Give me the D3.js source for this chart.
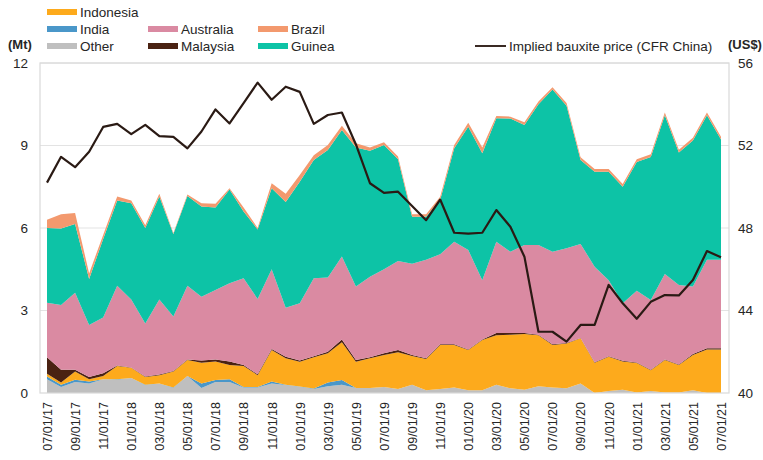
<!DOCTYPE html>
<html><head><meta charset="utf-8">
<script src="https://cdn.jsdelivr.net/npm/d3@7"></script>
<style>body{margin:0;background:#fff}svg{display:block}text{font-family:"Liberation Sans",Arial,sans-serif;fill:#262626}</style>
</head><body><svg id="c" width="763" height="460"></svg>
<script>
const months = ["07/01/17","08/01/17","09/01/17","10/01/17","11/01/17","12/01/17","01/01/18","02/01/18","03/01/18","04/01/18","05/01/18","06/01/18","07/01/18","08/01/18","09/01/18","10/01/18","11/01/18","12/01/18","01/01/19","02/01/19","03/01/19","04/01/19","05/01/19","06/01/19","07/01/19","08/01/19","09/01/19","10/01/19","11/01/19","12/01/19","01/01/20","02/01/20","03/01/20","04/01/20","05/01/20","06/01/20","07/01/20","08/01/20","09/01/20","10/01/20","11/01/20","12/01/20","01/01/21","02/01/21","03/01/21","04/01/21","05/01/21","06/01/21","07/01/21"];
const other     = [0.50,0.22,0.40,0.35,0.50,0.48,0.55,0.28,0.35,0.18,0.62,0.18,0.40,0.40,0.20,0.20,0.35,0.29,0.23,0.15,0.25,0.30,0.18,0.18,0.22,0.15,0.30,0.10,0.15,0.20,0.10,0.10,0.30,0.17,0.12,0.25,0.20,0.17,0.35,0.00,0.07,0.12,0.02,0.07,0.02,0.02,0.10,0.00,0.00];
const india     = [0.10,0.08,0.08,0.07,0.00,0.02,0.00,0.02,0.00,0.02,0.00,0.17,0.07,0.10,0.02,0.02,0.07,0.01,0.01,0.01,0.13,0.17,0.00,0.00,0.00,0.00,0.00,0.00,0.00,0.00,0.00,0.00,0.00,0.00,0.00,0.00,0.00,0.00,0.00,0.00,0.00,0.00,0.00,0.00,0.00,0.00,0.00,0.00,0.00];
const indonesia = [0.10,0.08,0.30,0.08,0.12,0.48,0.37,0.28,0.30,0.58,0.58,0.75,0.68,0.52,0.76,0.43,1.14,0.96,0.90,1.14,1.07,1.38,0.96,1.08,1.16,1.33,1.05,1.14,1.60,1.55,1.46,1.83,1.80,1.95,2.03,1.85,1.55,1.63,1.64,1.10,1.25,1.03,1.07,0.76,1.18,1.00,1.28,1.58,1.58];
const malaysia  = [0.60,0.47,0.07,0.08,0.10,0.02,0.01,0.02,0.02,0.02,0.02,0.08,0.07,0.13,0.04,0.03,0.04,0.06,0.04,0.04,0.05,0.10,0.06,0.04,0.07,0.08,0.03,0.02,0.02,0.02,0.02,0.02,0.08,0.06,0.03,0.02,0.02,0.02,0.01,0.02,0.02,0.02,0.02,0.02,0.02,0.02,0.04,0.05,0.05];
const australia = [1.98,2.35,2.80,1.89,2.03,2.90,2.47,1.93,2.73,1.98,2.68,2.32,2.53,2.84,3.15,2.74,2.90,1.78,2.08,2.83,2.70,3.01,2.67,2.93,3.05,3.24,3.32,3.59,3.28,3.73,3.62,2.15,3.32,2.96,3.20,3.26,3.37,3.44,3.42,3.47,2.76,2.09,2.61,2.53,3.11,2.89,2.45,3.22,3.22];
const guinea    = [2.72,2.78,2.50,1.68,2.85,3.10,3.50,3.47,3.75,3.00,3.26,3.28,3.00,3.41,2.43,2.53,2.95,3.85,4.42,4.30,4.64,4.60,5.06,4.58,4.52,3.70,1.71,1.56,1.97,3.40,4.48,4.62,4.49,4.84,4.37,5.12,5.90,5.19,3.05,3.46,3.95,4.24,4.68,5.20,5.77,4.82,5.31,5.25,4.37];
const brazil    = [0.30,0.52,0.40,0.20,0.15,0.15,0.10,0.10,0.10,0.04,0.06,0.12,0.13,0.05,0.15,0.05,0.18,0.30,0.25,0.18,0.18,0.16,0.15,0.12,0.10,0.10,0.09,0.09,0.12,0.12,0.15,0.21,0.08,0.07,0.10,0.10,0.08,0.10,0.10,0.10,0.10,0.10,0.10,0.10,0.10,0.10,0.10,0.10,0.10];
const price     = [50.2,51.45,50.95,51.7,52.9,53.05,52.55,53.0,52.45,52.42,51.86,52.68,53.75,53.07,54.05,55.05,54.22,54.85,54.6,53.05,53.48,53.6,52.05,50.17,49.7,49.76,49.07,48.38,49.38,47.77,47.73,47.77,48.87,48.06,46.61,42.97,42.97,42.49,43.3,43.3,45.24,44.35,43.6,44.42,44.75,44.73,45.48,46.88,46.58];
const leftTicks = [0,3,6,9,12];
const rightTicks = [40,44,48,52,56];
const xLabels = months.filter((d,i)=>i%2===0);

const keys = ["Other","India","Indonesia","Malaysia","Australia","Guinea","Brazil"];
const colors = {Other:"#bfbfbf",India:"#4a97c9",Indonesia:"#fdaa1c",Malaysia:"#4a2212",Australia:"#da8aa2",Guinea:"#0dc3a6",Brazil:"#f3996e"};
const series = {Other:other,India:india,Indonesia:indonesia,Malaysia:malaysia,Australia:australia,Guinea:guinea,Brazil:brazil};
const table = months.map((m,i)=>{const o={month:m,i};keys.forEach(k=>o[k]=series[k][i]);return o;});

const svg = d3.select("#c");
const L=40,R=729,T=63,B=393;
const x = d3.scalePoint().domain(months).range([47,721]);
const y = d3.scaleLinear().domain([0,12]).range([B,T]);
const y2 = d3.scaleLinear().domain([40,56]).range([B,T]);

// gridlines
svg.append("g").selectAll("line").data(leftTicks.filter(d=>d>0)).join("line")
  .attr("x1",L).attr("x2",R).attr("y1",d=>y(d)).attr("y2",d=>y(d))
  .attr("stroke","#e3e3e3").attr("stroke-width",1.2);

const stack = d3.stack().keys(keys)(table);
const area = d3.area().x(d=>x(d.data.month)).y0(d=>y(d[0])).y1(d=>y(d[1]));
svg.append("g").selectAll("path").data(stack).join("path")
  .attr("d",area).attr("fill",d=>colors[d.key]);

// frame
svg.append("rect").attr("x",L).attr("y",T).attr("width",R-L).attr("height",B-T)
  .attr("fill","none").attr("stroke","#d9d9d9").attr("stroke-width",1.2);

// price line
svg.append("path").datum(price)
  .attr("d",d3.line().x((d,i)=>x(months[i])).y(d=>y2(d)))
  .attr("fill","none").attr("stroke","#2a1a14").attr("stroke-width",2.2).attr("stroke-linejoin","round");

// axes
const ax = d3.axisLeft(y).tickValues(leftTicks).tickSize(0).tickPadding(12);
svg.append("g").attr("transform",`translate(${L},0)`).call(ax)
  .call(g=>g.select(".domain").remove())
  .selectAll("text").attr("font-size",13.5).style("font-family","Liberation Sans, Arial, sans-serif").attr("fill","#262626");
const ax2 = d3.axisRight(y2).tickValues(rightTicks).tickSize(0).tickPadding(9);
svg.append("g").attr("transform",`translate(${R},0)`).call(ax2)
  .call(g=>g.select(".domain").remove())
  .selectAll("text").attr("font-size",13.5).style("font-family","Liberation Sans, Arial, sans-serif").attr("fill","#262626");
const axb = d3.axisBottom(x).tickValues(xLabels).tickSize(0).tickPadding(0);
svg.append("g").attr("transform",`translate(0,${B})`).call(axb)
  .call(g=>g.select(".domain").remove())
  .selectAll("text").attr("font-size",12.5).style("font-family","Liberation Sans, Arial, sans-serif").attr("fill","#262626")
  .attr("transform","rotate(-90)").attr("text-anchor","end").attr("x",-9).attr("y",0).attr("dy","0.35em");

// unit labels
svg.append("text").attr("x",8).attr("y",49).attr("font-size",13).attr("font-weight","bold").text("(Mt)");
svg.append("text").attr("x",728).attr("y",49).attr("font-size",13).attr("font-weight","bold").text("(US$)");

// legend
const leg = [
  {k:"Indonesia",x:47,y:12},
  {k:"India",x:47,y:29},{k:"Australia",x:148,y:29},{k:"Brazil",x:258,y:29},
  {k:"Other",x:47,y:46},{k:"Malaysia",x:148,y:46},{k:"Guinea",x:258,y:46}
];
const lg = svg.append("g");
leg.forEach(l=>{
  lg.append("rect").attr("x",l.x).attr("y",l.y-3).attr("width",30).attr("height",6).attr("fill",colors[l.k]);
  lg.append("text").attr("x",l.x+33).attr("y",l.y).attr("dy","0.35em").attr("font-size",13.5).text(l.k);
});
lg.append("line").attr("x1",475).attr("x2",506).attr("y1",46).attr("y2",46).attr("stroke","#3a2a24").attr("stroke-width",2);
lg.append("text").attr("x",509).attr("y",46).attr("dy","0.35em").attr("font-size",13.5).text("Implied bauxite price (CFR China)");
</script></body></html>
